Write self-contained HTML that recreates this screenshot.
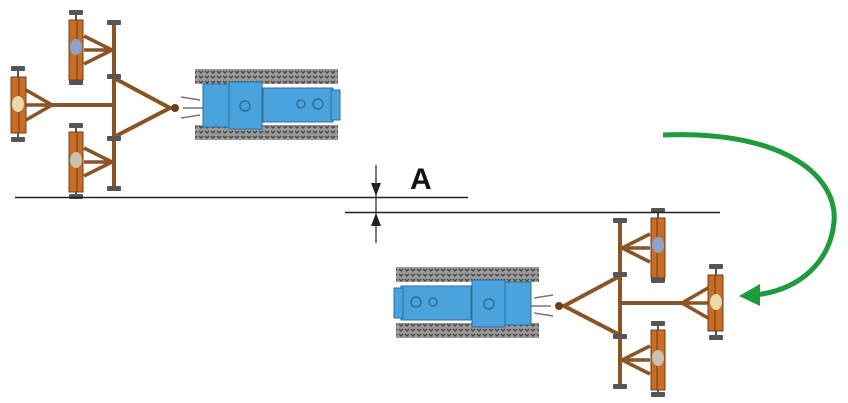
<!DOCTYPE html>
<html><head><meta charset="utf-8"><style>
html,body{margin:0;padding:0;background:#fff;width:848px;height:403px;overflow:hidden}
</style></head><body>
<svg width="848" height="403" viewBox="0 0 848 403" xmlns="http://www.w3.org/2000/svg">
<defs>
<pattern id="trk" x="0" y="0" width="6" height="15" patternUnits="userSpaceOnUse">
<rect width="6" height="15" fill="#9a9a9a"/>
<path d="M1 1 L3 3 L5 1 M1 6 L3 8 L5 6 M1 11 L3 13 L5 11" stroke="#444" stroke-width="1.3" fill="none"/>
</pattern>
<g id="unit">
<!-- rear bar -->
<line x1="114" y1="23" x2="114" y2="188" stroke="#8a5427" stroke-width="4"/>
<!-- big triangle -->
<path d="M114 78 L170 108 L114 137" fill="none" stroke="#8a5427" stroke-width="4"/>
<line x1="50" y1="105" x2="114" y2="105" stroke="#8a5427" stroke-width="4"/>
<circle cx="175" cy="108" r="4" fill="#6b3f1c"/>
<!-- small triangles -->
<path d="M84 36 L112 50 L84 64 M84 50 L112 50" fill="none" stroke="#8a5427" stroke-width="3.5"/>
<path d="M26 90 L52 105 L26 120 M26 105 L52 105" fill="none" stroke="#8a5427" stroke-width="3.5"/>
<path d="M84 148 L112 162 L84 176 M84 162 L112 162" fill="none" stroke="#8a5427" stroke-width="3.5"/>
<!-- caps -->
<g fill="#555">
<rect x="107" y="20" width="14" height="5" rx="1"/><rect x="107" y="186" width="14" height="5" rx="1"/>
<rect x="107" y="74" width="14" height="5" rx="1"/><rect x="107" y="136" width="14" height="5" rx="1"/>
<rect x="69" y="10" width="14" height="5" rx="1"/><rect x="69" y="80" width="14" height="5" rx="1"/>
<rect x="11" y="66" width="14" height="5" rx="1"/><rect x="11" y="137" width="14" height="5" rx="1"/>
<rect x="69" y="123" width="14" height="5" rx="1"/><rect x="69" y="194" width="14" height="5" rx="1"/>
<rect x="75" y="12" width="2" height="10"/><rect x="75" y="78" width="2" height="6"/>
<rect x="17" y="68" width="2" height="10"/><rect x="17" y="132" width="2" height="8"/>
<rect x="75" y="125" width="2" height="8"/><rect x="75" y="190" width="2" height="6"/>
</g>
<!-- discs -->
<g fill="#c86d26" stroke="#6b3f1c" stroke-width="1">
<rect x="69" y="20" width="14" height="60"/><rect x="11" y="77" width="15" height="56"/><rect x="69" y="132" width="14" height="60"/>
</g>
<g stroke="#6b3f1c" stroke-width="1"><line x1="77" y1="20" x2="77" y2="80"/><line x1="19" y1="77" x2="19" y2="133"/><line x1="77" y1="132" x2="77" y2="192"/></g>
<ellipse cx="76" cy="47" rx="6" ry="8" fill="#8fa3c9"/><ellipse cx="18" cy="104" rx="6" ry="8" fill="#e8d9a8"/><ellipse cx="76" cy="160" rx="6" ry="8" fill="#c9c0b0"/>
<!-- tracks -->
<rect x="195" y="69" width="143" height="15" fill="url(#trk)"/>
<rect x="195" y="125" width="143" height="15" fill="url(#trk)"/>
<!-- hitch arms -->
<path d="M181 97 L200 100 M181 118 L200 115 M183 108 L203 108" stroke="#777" stroke-width="1.5"/>
<!-- body -->
<rect x="203" y="84" width="26" height="43" fill="#4aa3dc" stroke="#2a6f9e"/>
<rect x="229" y="82" width="33" height="47" fill="#4aa3dc" stroke="#2a6f9e"/>
<rect x="263" y="88" width="70" height="34" fill="#4aa3dc" stroke="#2a6f9e"/>
<rect x="331" y="90" width="9" height="30" fill="#4aa3dc" stroke="#2a6f9e"/>
<circle cx="245" cy="106" r="5" fill="none" stroke="#2a6f9e" stroke-width="1.5"/>
<circle cx="301" cy="104" r="4" fill="none" stroke="#2a6f9e" stroke-width="1.5"/>
<circle cx="318" cy="104" r="5" fill="none" stroke="#2a6f9e" stroke-width="1.5"/>
</g>
</defs>
<use href="#unit"/>
<use href="#unit" transform="translate(734,198) scale(-1,1)"/>
<!-- lines -->
<line x1="15" y1="197.5" x2="468" y2="197.5" stroke="#222" stroke-width="1.5"/>
<line x1="345" y1="212.5" x2="720" y2="212.5" stroke="#222" stroke-width="1.5"/>
<line x1="376" y1="165" x2="376" y2="243" stroke="#222" stroke-width="1.2"/>
<path d="M371 183 L376 196 L381 183 Z M371 226 L376 213 L381 226 Z" fill="#222"/>
<text x="410" y="189" font-family="Liberation Sans, sans-serif" font-weight="bold" font-size="30" fill="#111">A</text>
<!-- green arrow -->
<path d="M663 135 C790 130 838 180 834 222 C830 262 800 290 755 295" fill="none" stroke="#1f9a3c" stroke-width="5"/>
<path d="M739 296 L760 284 L760 306 Z" fill="#1f9a3c"/>
</svg>
</body></html>
